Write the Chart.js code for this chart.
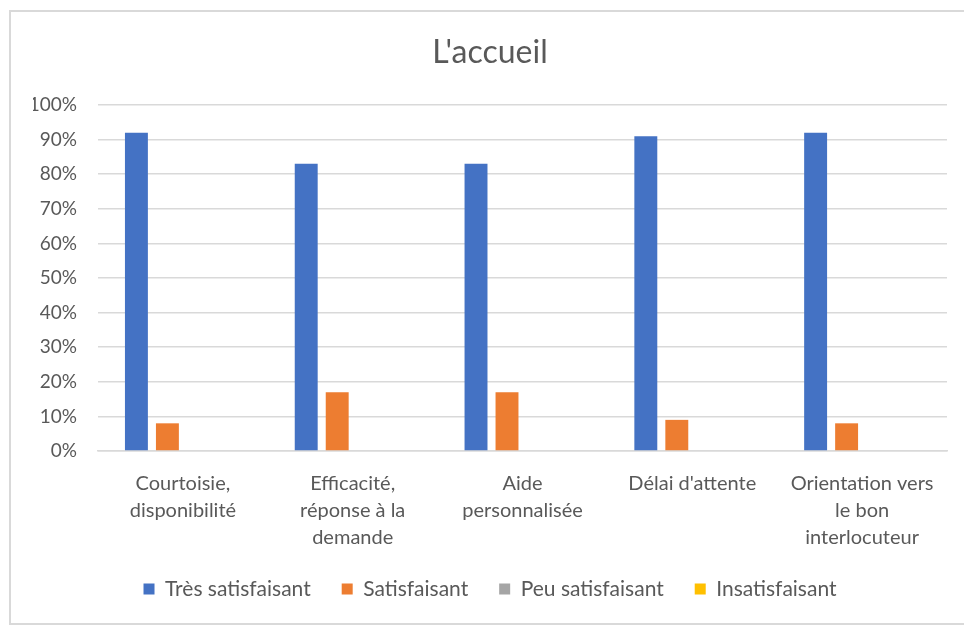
<!DOCTYPE html>
<html>
<head>
<meta charset="utf-8">
<script src="https://cdn.jsdelivr.net/npm/chart.js@4"></script>
<style>
  html, body { margin: 0; padding: 0; background: #ffffff; overflow: hidden; }
  #frame { position: absolute; left: 9px; top: 10px; width: 975px; height: 615px; border: 2px solid #d9d9d9; box-sizing: border-box; }
  #wrap { position: absolute; left: 0; top: 0; width: 964px; height: 626px; }
</style>
</head>
<body>
<div id="frame"></div>
<div id="wrap"><canvas id="c"></canvas></div>
<script>
const chartTitle = "L'accueil";
const categories = [
  ["Courtoisie,", "disponibilité"],
  ["Efficacité,", "réponse à la", "demande"],
  ["Aide", "personnalisée"],
  ["Délai d'attente"],
  ["Orientation vers", "le bon", "interlocuteur"]
];
const seriesNames = ["Très satisfaisant", "Satisfaisant", "Peu satisfaisant", "Insatisfaisant"];
const tresSatisfaisant = [92, 83, 83, 91, 92];
const satisfaisant = [8, 17, 17, 9, 8];
const peuSatisfaisant = [0, 0, 0, 0, 0];
const insatisfaisant = [0, 0, 0, 0, 0];
const yTickValues = [0, 10, 20, 30, 40, 50, 60, 70, 80, 90, 100];

const colors = ["#4472C4", "#ED7D31", "#A5A5A5", "#FFC000"];
const textColor = "#595959";
const gridColor = "#d9d9d9";
const FONT = "Lato";

// let the category labels draw below the axis box without being clipped
const labelRoom = {
  id: 'labelRoom',
  afterLayout(chart) {
    const x = chart.scales.x;
    x.bottom = x.bottom + 20;
  }
};

new Chart(document.getElementById('c'), {
  type: 'bar',
  data: {
    labels: categories,
    datasets: [tresSatisfaisant, satisfaisant, peuSatisfaisant, insatisfaisant].map((d, i) => ({
      label: seriesNames[i],
      data: d,
      backgroundColor: colors[i],
      borderWidth: 0,
      categoryPercentage: 0.73,
      barPercentage: 0.74
    }))
  },
  plugins: [labelRoom],
  options: {
    responsive: true,
    maintainAspectRatio: false,
    animation: false,
    layout: { padding: { left: 33, right: 17, top: 0, bottom: 16.5 } },
    plugins: {
      title: {
        display: true,
        text: chartTitle,
        color: textColor,
        font: { family: FONT, size: 32, weight: 'normal' },
        padding: { top: 33, bottom: 33.6 }
      },
      legend: {
        display: true,
        position: 'bottom',
        labels: {
          color: textColor,
          font: { family: FONT, size: 21 },
          boxWidth: 11,
          boxHeight: 11,
          padding: 31
        }
      },
      tooltip: { enabled: false }
    },
    scales: {
      x: {
        grid: { display: false, drawTicks: false },
        border: { display: true, color: gridColor, width: 1.5 },
        ticks: {
          color: textColor,
          font: { family: FONT, size: 20, lineHeight: 1.35 },
          padding: 19,
          maxRotation: 0,
          autoSkip: false
        },
        afterFit: (s) => { s.height = 96.5; }
      },
      y: {
        min: 0,
        max: 100,
        afterBuildTicks: (s) => { s.ticks = yTickValues.map(v => ({ value: v })); },
        grid: { color: gridColor, lineWidth: 1.5, drawTicks: false },
        border: { display: false },
        ticks: {
          color: textColor,
          font: { family: FONT, size: 19 },
          padding: 21,
          callback: (v) => v + '%'
        },
        afterFit: (s) => { s.width = 65; }
      }
    }
  }
});
</script>
</body>
</html>
